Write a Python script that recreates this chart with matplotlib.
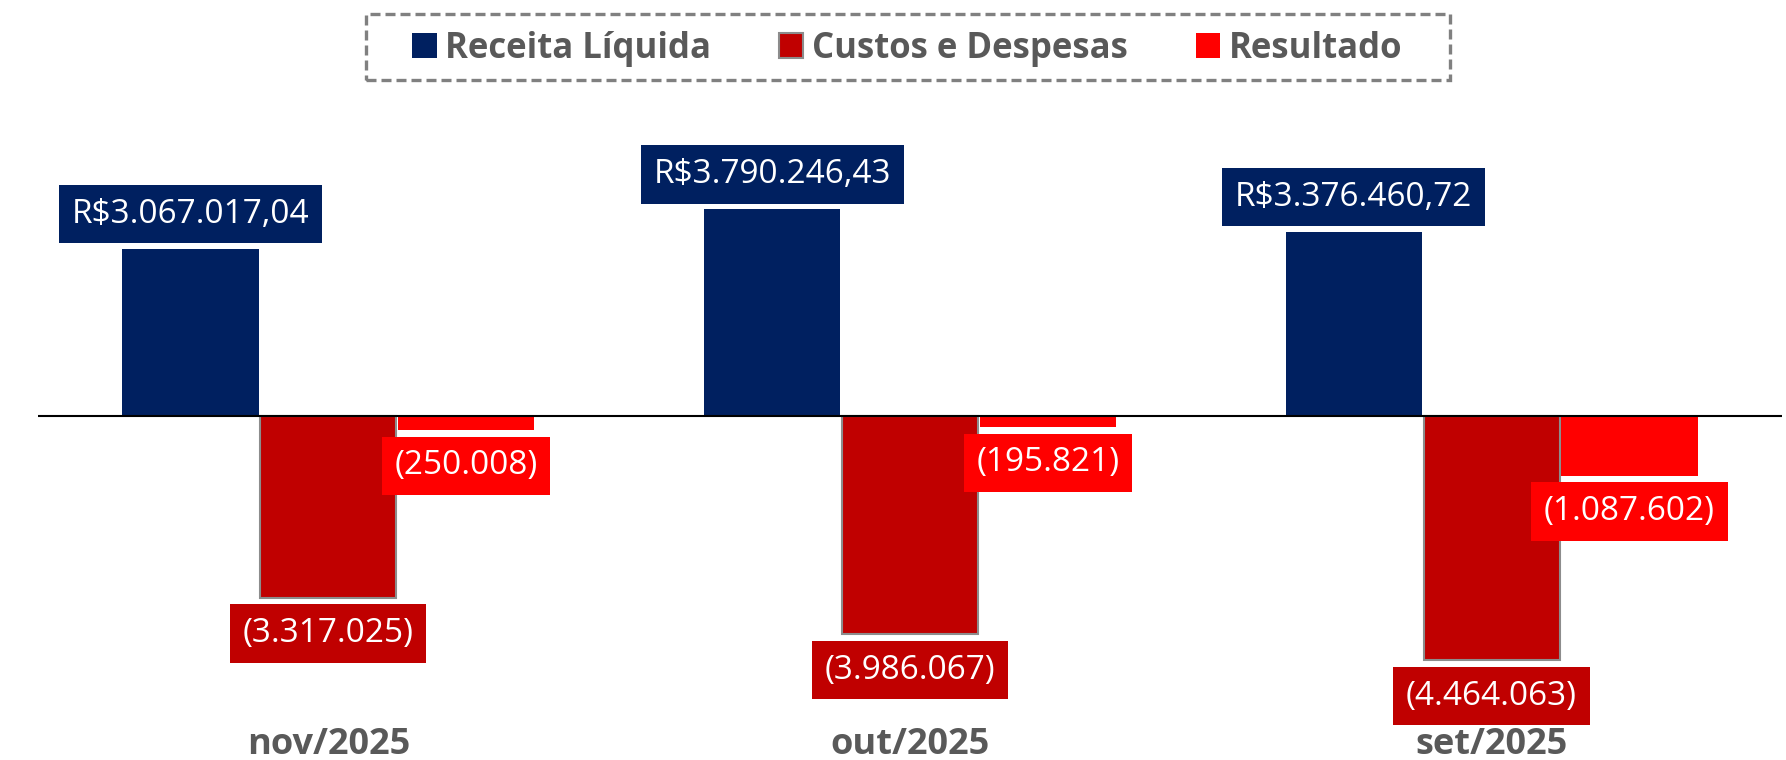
import matplotlib.pyplot as plt
import numpy as np
from matplotlib.patches import Patch, Rectangle

meses = ['nov/2025', 'out/2025', 'set/2025']
receita = [3067017.04, 3790246.43, 3376460.72]
custos = [-3317025, -3986067, -4464063]
resultado = [-250008, -195821, -1087602]

series_nomes = ['Receita Líquida', 'Custos e Despesas', 'Resultado']
cores = ['#002060', '#C00000', '#FF0000']

plt.rcParams['font.family'] = ['Open Sans', 'DejaVu Sans']


def brl(v):
    s = f'{v:,.2f}'.replace(',', 'X').replace('.', ',').replace('X', '.')
    return 'R$' + s


def neg(v):
    s = f'{abs(v):,.0f}'.replace(',', '.')
    return f'({s})'


fig = plt.figure(figsize=(17.86, 7.6), dpi=100)
ax = fig.add_axes([0.021, 0.079, 0.977, 0.789])

x = np.arange(len(meses))
w = 0.234
off = 0.237

b1 = ax.bar(x - off, receita, w, color=cores[0])
b2 = ax.bar(x, custos, w, color=cores[1], edgecolor='#8c8c8c', linewidth=1.5)
b3 = ax.bar(x + off, resultado, w, color=cores[2])

ax.axhline(0, color='black', linewidth=1.5)

for bars, vals, cor in [(b1, receita, cores[0]), (b2, custos, cores[1]), (b3, resultado, cores[2])]:
    for rect, v in zip(bars, vals):
        cx = rect.get_x() + rect.get_width() / 2
        if v >= 0:
            txt, dy, va = brl(v), 13, 'bottom'
        else:
            txt, dy, va = neg(v), -14, 'top'
        ax.annotate(txt, (cx, v), xytext=(0, dy), textcoords='offset points',
                    ha='center', va=va, color='white', fontsize=24,
                    bbox=dict(boxstyle='square,pad=0.38', fc=cor, ec='none'))

ax.set_xlim(-0.5, 2.5)
ax.set_ylim(-5.19e6, 5.78e6)
ax.set_xticks(x)
ax.set_xticklabels(meses, fontsize=26, fontweight='bold', color='#595959')
ax.tick_params(axis='x', length=0, pad=0)
ax.set_yticks([])
for s in ax.spines.values():
    s.set_visible(False)
for lbl in ax.get_xticklabels():
    lbl.set_y(-0.045)

handles = [Patch(facecolor=cores[0]),
           Patch(facecolor=cores[1], edgecolor='#8c8c8c', linewidth=1.5),
           Patch(facecolor=cores[2])]
leg = fig.legend(handles, series_nomes, loc='center', bbox_to_anchor=(0.508, 0.936),
                 ncol=3, frameon=False, handlelength=0.7, handleheight=0.7,
                 handletextpad=0.25, columnspacing=1.95,
                 prop={'size': 25, 'weight': 'bold'})
for t in leg.get_texts():
    t.set_color('#595959')

# dashed frame around the legend
W, H = fig.get_size_inches() * fig.dpi
fig.add_artist(Rectangle((366 / W, 1 - 80 / H), (1450 - 366) / W, 66 / H,
                         transform=fig.transFigure, fill=False, edgecolor='#808080',
                         linewidth=2.4, linestyle=(0, (3, 1.5))))

fig.savefig('out.png', dpi=100)
